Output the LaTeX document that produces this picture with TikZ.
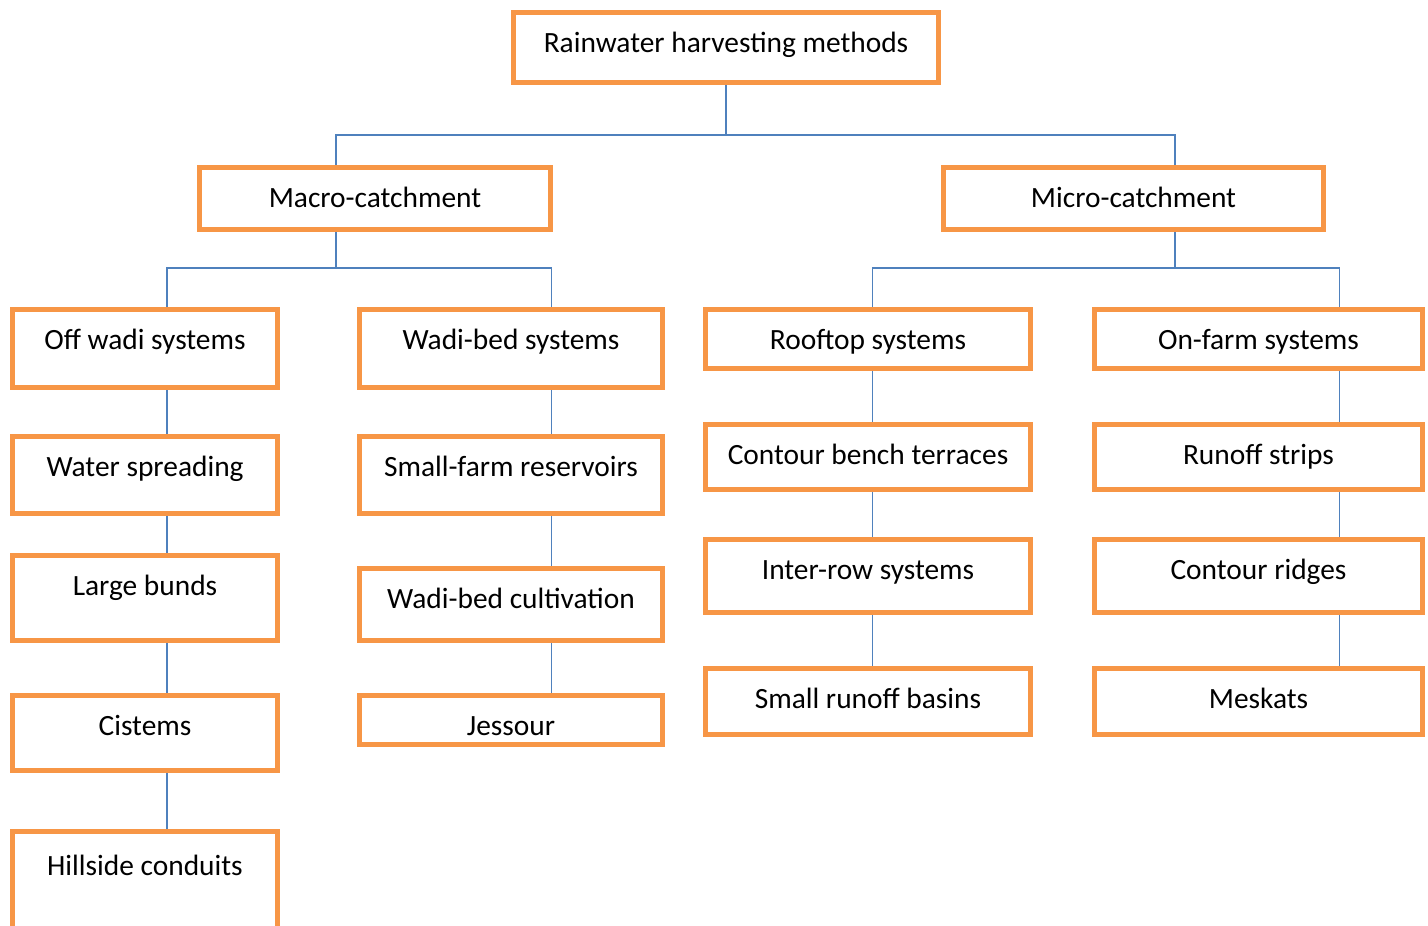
\documentclass[tikz,border=0pt]{standalone}
\usepackage{fontspec}
\setmainfont{Carlito}
\usetikzlibrary{positioning}
\definecolor{boxorange}{HTML}{F79646}
\definecolor{linkblue}{HTML}{4F81BD}

\begin{document}
\begin{tikzpicture}[
                x=1pt, y=-1pt,
                box/.style={draw=boxorange,line width=4.8pt,fill=white,inner sep=0pt,minimum width=#1},
                txt/.style={anchor=base,inner sep=0pt,font=\fontsize{29.4}{35}\selectfont},
                link/.style={draw=linkblue,line width=1.5pt}
            ]
                \useasboundingbox (0,0) rectangle (1428,926);
                \clip (0,0) rectangle (1428,926);
                % top levels
                \node (root)  [box=425.5pt,minimum height=70.5pt] at (726,47.5)    {};
                \node (macro) [box=351.5pt,minimum height=62.5pt] at (375,198.5)   {};
                \node (micro) [box=380.5pt,minimum height=62.5pt] at (1133.5,198.5) {};
                % macro-catchment columns
                \node (offw)  [box=265.5pt,minimum height=78.5pt] at (145,348.5) {};
                \node (wspr)  [box=265.5pt,minimum height=77.5pt] at (145,475)   {};
                \node (lbund) [box=265.5pt,minimum height=85.5pt] at (145,598)   {};
                \node (cist)  [box=265.5pt,minimum height=75.5pt] at (145,733)   {};
                \node (hill)  [box=265.5pt,minimum height=145.5pt] at (145,904)  {};
                \node (wbed)  [box=303.5pt,minimum height=78.5pt] at (511,348.5) {};
                \node (sfres) [box=303.5pt,minimum height=77.5pt] at (511,475)   {};
                \node (wcult) [box=303.5pt,minimum height=72.5pt] at (511,604.5) {};
                \node (jess)  [box=303.5pt,minimum height=49.5pt] at (511,720)   {};
                % micro-catchment columns
                \node (roof)   [box=325.5pt,minimum height=59.5pt] at (868,339)   {};
                \node (cbench) [box=325.5pt,minimum height=65.5pt] at (868,457)   {};
                \node (irow)   [box=325.5pt,minimum height=73.5pt] at (868,576)   {};
                \node (srb)    [box=325.5pt,minimum height=66.5pt] at (868,701.5) {};
                \node (onfarm) [box=328.5pt,minimum height=59.5pt] at (1258.5,339)   {};
                \node (rstrip) [box=328.5pt,minimum height=65.5pt] at (1258.5,457)   {};
                \node (cridge) [box=328.5pt,minimum height=73.5pt] at (1258.5,576)   {};
                \node (mesk)   [box=328.5pt,minimum height=66.5pt] at (1258.5,701.5) {};
                % labels
                \foreach \n/\t in {root/Rainwater harvesting methods,macro/Macro-catchment,micro/Micro-catchment,
                                   offw/Off wadi systems,wspr/Water spreading,lbund/Large bunds,cist/Cistems,
                                   wbed/Wadi-bed systems,sfres/Small-farm reservoirs,wcult/Wadi-bed cultivation,jess/Jessour,
                                   roof/Rooftop systems,cbench/Contour bench terraces,irow/Inter-row systems,srb/Small runoff basins,
                                   onfarm/On-farm systems,rstrip/Runoff strips,cridge/Contour ridges,mesk/Meskats}
                    \node (\n-t) [txt] at ([yshift=-43pt]\n.north) {\t};
                \node (hill-t) [txt] at ([yshift=-47pt]hill.north) {Hillside conduits};
                % connectors
                \coordinate (bus0) at (726,135);
                \coordinate (bus1) at (336,268);
                \coordinate (bus2) at (1175,268);
                \draw[link] (root.south) -- (bus0);
                \draw[link] ([xshift=-39pt]macro.north) |- (bus0) -| ([xshift=41.5pt]micro.north);
                \draw[link] ([xshift=-39pt]macro.south) -- (bus1);
                \draw[link] ([xshift=22pt]offw.north) |- (bus1) -| ([xshift=40.5pt]wbed.north);
                \draw[link] ([xshift=41.5pt]micro.south) -- (bus2);
                \draw[link] ([xshift=4.5pt]roof.north) |- (bus2) -| ([xshift=81pt]onfarm.north);
                \foreach \a/\b/\s in {offw/wspr/22,wspr/lbund/22,lbund/cist/22,cist/hill/22,
                                      wbed/sfres/40.5,sfres/wcult/40.5,wcult/jess/40.5,
                                      roof/cbench/4.5,cbench/irow/4.5,irow/srb/4.5,
                                      onfarm/rstrip/81,rstrip/cridge/81,cridge/mesk/81}
                    \draw[link] ([xshift=\s pt]\a.south) -- ([xshift=\s pt]\b.north);
            \end{tikzpicture}
\end{document}
